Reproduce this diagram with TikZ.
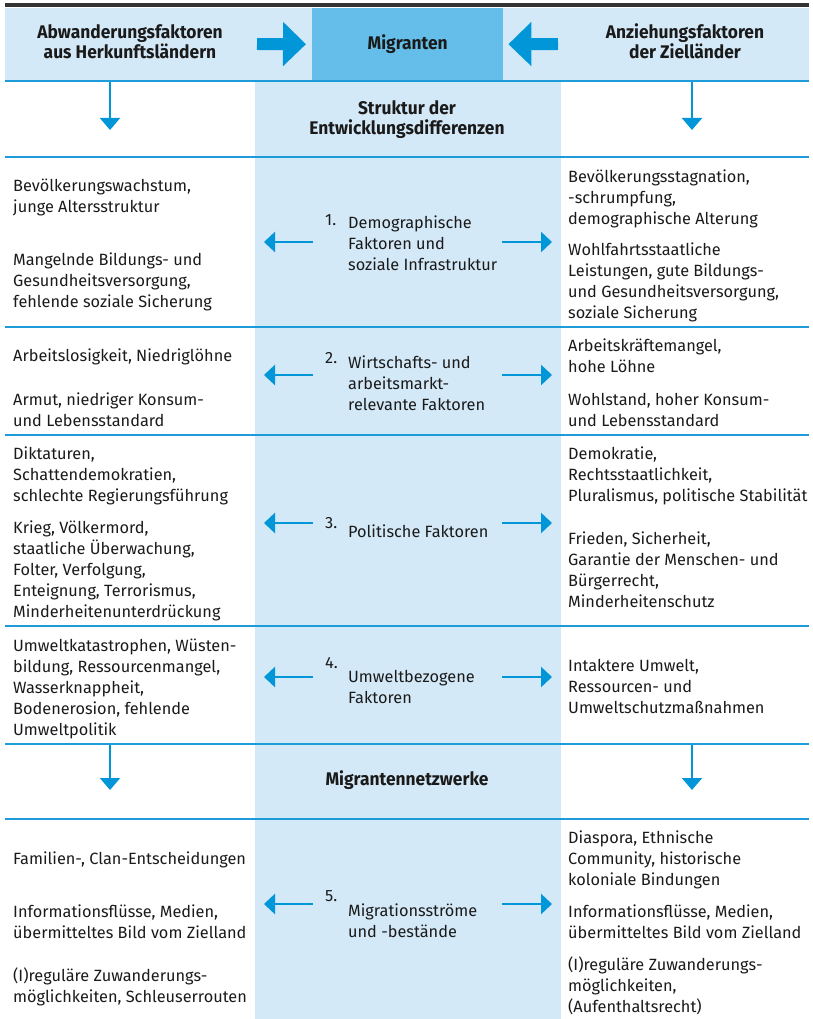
\documentclass[tikz,border=0pt]{standalone}
\usepackage{fontspec}
\setmainfont{Fira Sans}
\newfontfamily\dgcond[FakeStretch=0.95]{Fira Sans}
\usetikzlibrary{arrows.meta}
\definecolor{bandcol}{HTML}{D4E9F7}
\definecolor{migcol}{HTML}{64BEE9}
\definecolor{arrowcol}{HTML}{0096D8}
\definecolor{rulecol}{HTML}{1E9BD9}
\definecolor{topcol}{HTML}{333333}
\definecolor{textcol}{HTML}{1A1A1A}
\newcommand\dgbody{\fontsize{16.3}{21}\selectfont}
\newcommand\dghead{\dgcond\bfseries\fontsize{18.3}{20.5}\selectfont}
\begin{document}
\begin{tikzpicture}[x=1pt,y=-1pt,
  txt/.style={anchor=base west, align=left, inner sep=0pt, font=\dgbody, text=textcol},
  num/.style={anchor=base west, inner sep=0pt, font=\dgbody, text=textcol},
  head/.style={anchor=base, align=center, inner sep=0pt, font=\dghead, text=textcol},
  sep/.style={draw=rulecol, line width=2.4pt},
  harrow/.style={draw=arrowcol, line width=2.8pt, -{Triangle[length=11pt,width=20pt]}},
  varrow/.style={draw=arrowcol, line width=2pt, -{Triangle[length=12pt,width=20pt]}},
  bigarrow/.style={draw=arrowcol, line width=12pt, -{Triangle[length=23pt,width=43pt]}},
]
\useasboundingbox (0,0) rectangle (813,1019);
% backgrounds
\fill[bandcol] (5,8) rectangle (809,81);
\fill[bandcol] (255,81) rectangle (561,1019);
\draw[topcol, line width=3.5pt] (5,5) -- (809,5);
\node[fill=migcol, minimum width=191pt, minimum height=72pt, inner sep=0pt, anchor=north west, font=\dghead, text=textcol] (mig) at (312,8) {Migranten};
% rules
\draw[sep] (5,81) -- (809,81);
\foreach \yy in {157,327,435,626,744,819} \draw[sep] (5,\yy) -- (809,\yy);
% header
\node[head] (push) at (130,59) {Abwanderungsfaktoren\\aus Herkunftsländern};
\node[head] (pull) at (685,59) {Anziehungsfaktoren\\der Zielländer};
\coordinate (bl) at (257,44);
\coordinate (br) at (558,44);
\draw[bigarrow, shorten >=6pt] (bl) -- (mig.west);
\draw[bigarrow, shorten >=5pt] (br) -- (mig.east);
\node[head] (struk) at (407,135) {Struktur der\\Entwicklungsdifferenzen};
\node[head] (netz) at (407,785) {Migrantennetzwerke};
% down arrows
\coordinate (d1s) at (110,82); \coordinate (d1e) at (110,130);
\coordinate (d2s) at (692,82); \coordinate (d2e) at (692,130);
\coordinate (d3s) at (110,745); \coordinate (d3e) at (110,790);
\coordinate (d4s) at (692,745); \coordinate (d4e) at (692,790);
\draw[varrow] (d1s) -- (d1e);
\draw[varrow] (d2s) -- (d2e);
\draw[varrow] (d3s) -- (d3e);
\draw[varrow] (d4s) -- (d4e);
% horizontal arrows
\foreach \n/\yy in {1/242,2/375,3/523,4/677,5/904}{
  \coordinate (l\n s) at (313,\yy); \coordinate (l\n e) at (264,\yy);
  \coordinate (r\n s) at (502,\yy); \coordinate (r\n e) at (552,\yy);
  \draw[harrow] (l\n s) -- (l\n e);
  \draw[harrow] (r\n s) -- (r\n e);
}
% row 1  (anchor = baseline of the LAST line)
\node[txt] (a1) at (13,212) {Bevölkerungswachstum,\\junge Altersstruktur};
\node[txt] (a2) at (13,307) {Mangelnde Bildungs- und\\Gesundheitsversorgung,\\fehlende soziale Sicherung};
\node[num] (n1) at (325,225) {1.};
\node[txt] (c1) at (348,270) {Demographische\\Faktoren und\\soziale Infrastruktur};
\node[txt] (b1) at (568,224) {Bevölkerungsstagnation,\\-schrumpfung,\\demographische Alterung};
\node[txt] (b2) at (568,318) {Wohlfahrtsstaatliche\\Leistungen, gute Bildungs-\\und Gesundheitsversorgung,\\soziale Sicherung};
% row 2
\node[txt] (a3) at (13,361) {Arbeitslosigkeit, Niedriglöhne};
\node[txt] (a4) at (13,426) {Armut, niedriger Konsum-\\und Lebensstandard};
\node[num] (n2) at (325,363) {2.};
\node[txt] (c2) at (348,410) {Wirtschafts- und\\arbeitsmarkt-\\relevante Faktoren};
\node[txt] (b3) at (568,372) {Arbeitskräftemangel,\\hohe Löhne};
\node[txt] (b4) at (568,426) {Wohlstand, hoher Konsum-\\und Lebensstandard};
% row 3
\node[txt] (a5) at (13,501) {Diktaturen,\\Schattendemokratien,\\schlechte Regierungsführung};
\node[txt] (a6) at (13,617) {Krieg, Völkermord,\\staatliche Überwachung,\\Folter, Verfolgung,\\Enteignung, Terrorismus,\\Minderheitenunterdrückung};
\node[num] (n3) at (325,528) {3.};
\node[txt] (c3) at (348,537) {Politische Faktoren};
\node[txt] (b5) at (568,501) {Demokratie,\\Rechtsstaatlichkeit,\\Pluralismus, politische Stabilität};
\node[txt] (b6) at (568,607) {Frieden, Sicherheit,\\Garantie der Menschen- und\\Bürgerrecht,\\Minderheitenschutz};
% row 4
\node[txt] (a7) at (13,735) {Umweltkatastrophen, Wüsten-\\bildung, Ressourcenmangel,\\Wasserknappheit,\\Bodenerosion, fehlende\\Umweltpolitik};
\node[num] (n4) at (325,668) {4.};
\node[txt] (c4) at (348,703) {Umweltbezogene\\Faktoren};
\node[txt] (b7) at (568,713) {Intaktere Umwelt,\\Ressourcen- und\\Umweltschutzmaßnahmen};
% row 5
\node[txt] (a8) at (13,864) {Familien-, Clan-Entscheidungen};
\node[txt] (a9) at (13,938) {Informationsflüsse, Medien,\\übermitteltes Bild vom Zielland};
\node[txt] (a10) at (13,1002) {(I)reguläre Zuwanderungs-\\möglichkeiten, Schleuserrouten};
\node[num] (n5) at (325,901) {5.};
\node[txt] (c5) at (348,937) {Migrationsströme\\und -bestände};
\node[txt] (b8) at (568,885) {Diaspora, Ethnische\\Community, historische\\koloniale Bindungen};
\node[txt] (b9) at (568,938) {Informationsflüsse, Medien,\\übermitteltes Bild vom Zielland};
\node[txt] (b10) at (568,1012) {(I)reguläre Zuwanderungs-\\möglichkeiten,\\(Aufenthaltsrecht)};
\end{tikzpicture}
\end{document}
